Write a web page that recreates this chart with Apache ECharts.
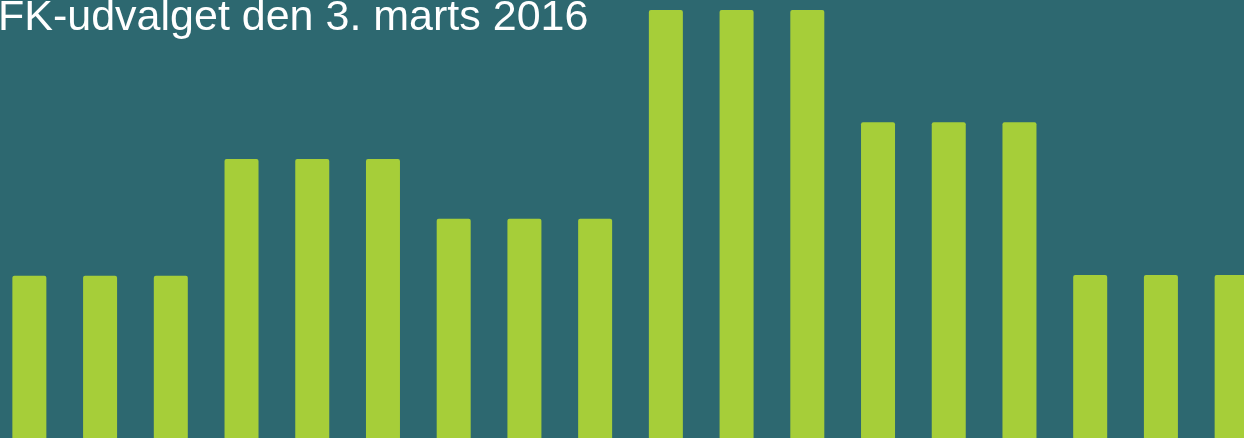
<!DOCTYPE html>
<html>
<head>
<meta charset="utf-8">
<script src="https://cdn.jsdelivr.net/npm/echarts@6/dist/echarts.min.js"></script>
<style>
html,body{margin:0;padding:0;background:#2d6870;overflow:hidden;width:1244px;height:438px;position:relative;}
#chart{width:1273px;height:438px;position:absolute;left:-6px;top:0;}
</style>
</head>
<body>
<div id="chart"></div>
<script>
const titleText = "FK-udvalget den 3. marts 2016";
const categories = ["1","2","3","4","5","6","7","8","9","10","11","12","13","14","15","16","17","18"];
const values = [37.9,37.9,37.9,65.2,65.2,65.2,51.2,51.2,51.2,100,100,100,73.8,73.8,73.8,38.1,38.1,38.1];

const chart = echarts.init(document.getElementById('chart'), null, {renderer:'canvas'});
chart.setOption({
  backgroundColor: '#2d6870',
  animation: false,
  title: {
    text: titleText,
    left: 4,
    top: -3,
    padding: 0,
    z: 10,
    textStyle: {color:'#ffffff', fontFamily:'Liberation Sans, Arial, sans-serif', fontWeight:'normal', fontSize:43}
  },
  grid: {left: 0, right: 0, top: 10, bottom: 0, containLabel: false},
  xAxis: {type:'category', data: categories, show:false, boundaryGap:true},
  yAxis: {type:'value', min:0, max:100, show:false, splitLine:{show:false}},
  series: [{
    type:'bar',
    data: values,
    barWidth: 34,
    itemStyle: {color:'#a6ce39', borderRadius:[2,2,0,0]},
    z: 1
  }]
});
</script>
</body>
</html>
